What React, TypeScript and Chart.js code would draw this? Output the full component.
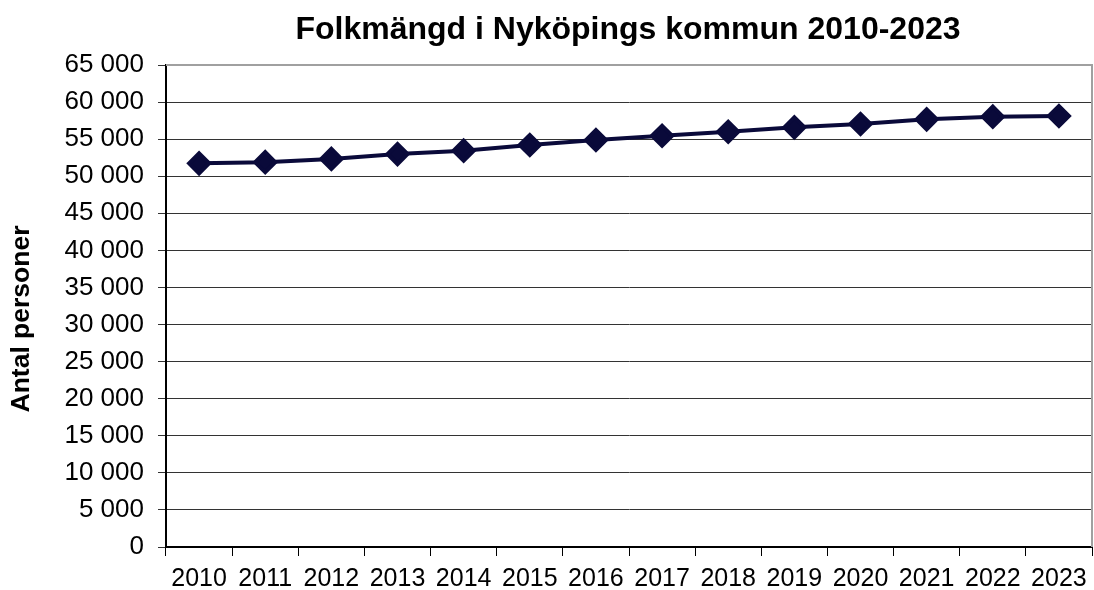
import React, { useEffect, useRef } from "react";
import { Chart, registerables } from "chart.js";

Chart.register(...registerables);

const years = ["2010", "2011", "2012", "2013", "2014", "2015", "2016", "2017", "2018", "2019", "2020", "2021", "2022", "2023"];
const population = [51740, 51900, 52330, 52990, 53450, 54210, 54880, 55460, 56000, 56590, 57040, 57670, 58030, 58120];
const chartTitle = "Folkmängd i Nyköpings kommun 2010-2023";
const yAxisTitle = "Antal personer";

const FONT = "'Liberation Sans', Arial, sans-serif";

const fmt = (v: number) => {
  const s = Math.round(v).toString();
  return s.replace(/\B(?=(\d{3})+(?!\d))/g, " ");
};

export default function App() {
  const ref = useRef<HTMLCanvasElement | null>(null);
  useEffect(() => {
    if (!ref.current) return;
    const framePlugin = {
      id: "frame",
      afterDraw(chart: any) {
        const { ctx, chartArea } = chart;
        ctx.save();
        ctx.strokeStyle = "#a0a0a0";
        ctx.lineWidth = 2;
        ctx.beginPath();
        ctx.moveTo(chartArea.left, chartArea.top);
        ctx.lineTo(chartArea.right, chartArea.top);
        ctx.lineTo(chartArea.right, chartArea.bottom);
        ctx.stroke();
        ctx.fillStyle = "#000";
        ctx.font = `bold 32px ${FONT}`;
        ctx.textAlign = "center";
        ctx.textBaseline = "middle";
        ctx.fillText(chartTitle, 628, 30);
        ctx.translate(22, 319);
        ctx.rotate(-Math.PI / 2);
        ctx.font = `bold 26.5px ${FONT}`;
        ctx.fillText(yAxisTitle, 0, 0);
        ctx.restore();
      },
    };
    const chart = new Chart(ref.current, {
      type: "line",
      data: {
        labels: years,
        datasets: [
          {
            data: population,
            borderColor: "#0a0a3a",
            backgroundColor: "#0a0a3a",
            borderWidth: 4,
            pointStyle: "rectRot",
            pointRadius: 10,
            pointHoverRadius: 10,
            tension: 0,
          },
        ],
      },
      options: {
        responsive: false,
        animation: false,
        layout: { autoPadding: false, padding: { top: 65, right: 2, left: 0, bottom: 0 } },
        plugins: { legend: { display: false }, title: { display: false }, tooltip: { enabled: false } },
        scales: {
          x: {
            type: "category",
            offset: true,
            grid: { offset: true, drawOnChartArea: false, drawTicks: true, tickLength: 9, color: "#000" },
            border: { color: "#000", width: 2 },
            ticks: { color: "#000", font: { family: FONT, size: 25 }, padding: 8, maxRotation: 0, autoSkip: false },
            afterFit(scale: any) {
              scale.height = 43;
              scale.paddingLeft = 0;
              scale.paddingRight = 0;
            },
          },
          y: {
            min: 0,
            max: 65000,
            ticks: { stepSize: 5000, color: "#000", font: { family: FONT, size: 26 }, padding: 14, callback: (v: any) => fmt(Number(v)) },
            grid: { color: "#333", lineWidth: 1, tickLength: 8 },
            border: { color: "#000", width: 2 },
            title: { display: false },
            afterFit(scale: any) {
              scale.width = 166;
              scale.paddingTop = 0;
              scale.paddingBottom = 0;
            },
          },
        },
      },
      plugins: [framePlugin],
    } as any);
    return () => chart.destroy();
  }, []);
  return (
    <div style={{ position: "absolute", left: 0, top: 0, width: 1094, height: 590, background: "#fff" }}>
      <canvas ref={ref} width={1094} height={590} style={{ display: "block" }} />
    </div>
  );
}
